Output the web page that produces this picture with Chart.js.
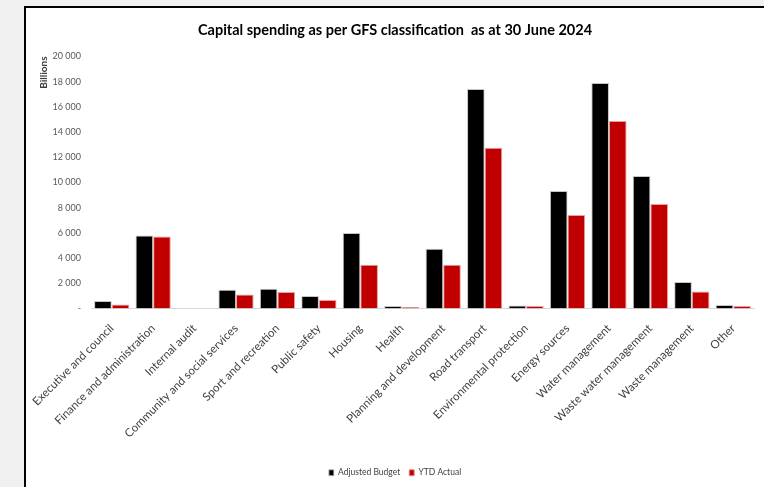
<!DOCTYPE html>
<html>
<head>
<meta charset="utf-8">
<script src="https://cdn.jsdelivr.net/npm/chart.js@4"></script>
<style>
  html, body { margin: 0; padding: 0; background: #f0f0f0; }
  #panel {
    position: absolute; left: 24px; top: 6px; width: 740px; height: 481px;
    box-sizing: border-box; background: #fff;
    border-left: 2px solid #000; border-top: 2px solid #000;
  }
  #wrap { position: absolute; left: 0; top: 0; width: 738px; height: 479px; }
</style>
</head>
<body>
<div id="panel"><div id="wrap"><canvas id="capitalChart"></canvas></div></div>
<script>
const categories = [
  'Executive and council', 'Finance and administration', 'Internal audit',
  'Community and social services', 'Sport and recreation', 'Public safety',
  'Housing', 'Health', 'Planning and development', 'Road transport',
  'Environmental protection', 'Energy sources', 'Water management',
  'Waste water management', 'Waste management', 'Other'
];
const adjustedBudget = [590, 5800, 0, 1490, 1570, 990, 5990, 190, 4750, 17410, 240, 9330, 17890, 10520, 2100, 270];
const ytdActual = [320, 5720, 0, 1110, 1300, 670, 3470, 110, 3480, 12750, 190, 7420, 14870, 8300, 1350, 190];
const yMax = 20000;
const yStep = 2000;

const baseFont = "Lato, sans-serif";

function fmt(v) {
  if (v === 0) return '-';
  return String(v).replace(/\B(?=(\d{3})+(?!\d))/g, ' ');
}

const ctx = document.getElementById('capitalChart').getContext('2d');
const myChart = new Chart(ctx, {
  type: 'bar',
  data: {
    labels: categories,
    datasets: [{
      label: 'Adjusted Budget',
      data: adjustedBudget,
      backgroundColor: '#000000',
      borderColor: 'rgba(190,190,190,0.9)',
      borderWidth: 1
    }, {
      label: 'YTD Actual',
      data: ytdActual,
      backgroundColor: '#c00000',
      borderColor: 'rgba(230,150,150,0.9)',
      borderWidth: 1
    }]
  },
  options: {
    responsive: true,
    maintainAspectRatio: false,
    animation: false,
    datasets: {
      bar: { categoryPercentage: 0.85, barPercentage: 1.0 }
    },
    layout: { padding: { left: 10, right: 10, top: 8, bottom: 0 } },
    plugins: {
      title: {
        display: true,
        text: 'Capital spending as per GFS classification  as at 30 June 2024',
        color: '#000',
        font: { family: baseFont, size: 14.5, weight: 'bold' },
        padding: { top: 6, bottom: 17 }
      },
      legend: {
        position: 'bottom',
        labels: {
          boxWidth: 5, boxHeight: 6, padding: 9,
          color: '#404040',
          font: { family: baseFont, size: 8.5 }
        }
      },
      tooltip: { enabled: false }
    },
    scales: {
      y: {
        min: 0, max: yMax,
        ticks: {
          stepSize: yStep,
          color: '#595959',
          padding: 10,
          font: { family: baseFont, size: 9 },
          callback: (v) => fmt(v)
        },
        grid: { display: false, drawTicks: false },
        border: { display: false },
        title: {
          display: true, text: 'Billions', align: 'end',
          color: '#404040',
          font: { family: baseFont, size: 10, weight: 'bold' },
          padding: 2
        },
        afterFit: (s) => { s.width = 55; }
      },
      x: {
        ticks: {
          minRotation: 45, maxRotation: 45,
          color: '#404040',
          padding: 13,
          font: { family: baseFont, size: 11.5 }
        },
        grid: { display: false, drawTicks: false },
        border: { display: true, color: '#d9d9d9', width: 1 },
        afterFit: (s) => { s.height = 151; s.paddingLeft = 0; s.paddingRight = 0; }
      }
    }
  }
});
</script>
</body>
</html>
